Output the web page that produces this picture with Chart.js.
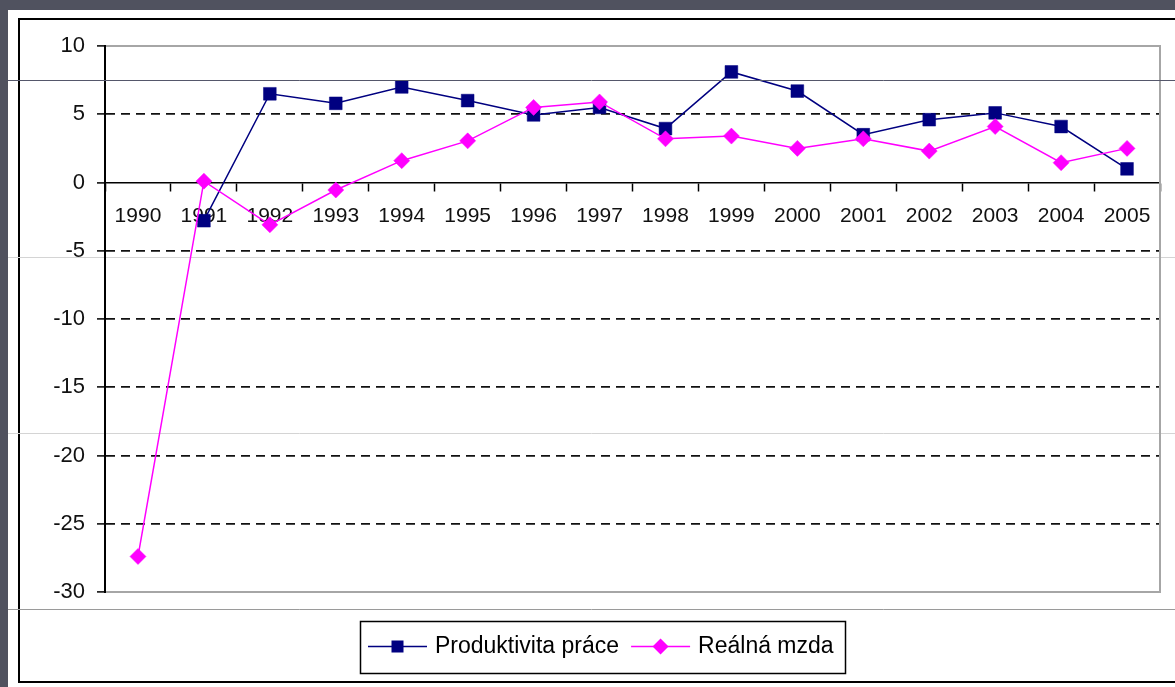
<!DOCTYPE html>
<html>
<head>
<meta charset="utf-8">
<script src="https://cdn.jsdelivr.net/npm/chart.js@4/dist/chart.umd.min.js"></script>
<style>
  html, body { margin: 0; padding: 0; background: #50525f; }
  #c { display: block; }
</style>
</head>
<body>
<canvas id="c" width="1175" height="687"></canvas>
<script>
const years = ['1990','1991','1992','1993','1994','1995','1996','1997','1998','1999','2000','2001','2002','2003','2004','2005'];
const produktivita = [null, -2.8, 6.5, 5.8, 7.0, 6.0, 4.95, 5.5, 3.95, 8.1, 6.7, 3.5, 4.6, 5.1, 4.1, 1.0];
const realnaMzda = [-27.4, 0.1, -3.1, -0.55, 1.6, 3.05, 5.5, 5.9, 3.2, 3.4, 2.5, 3.2, 2.3, 4.1, 1.45, 2.5];
const seriesNames = ['Produktivita práce', 'Reálná mzda'];
const yTicks = { min: -30, max: 10, step: 5 };

const FONT = '"Liberation Sans", Arial, sans-serif';
const NAVY = '#000080';
const MAGENTA = '#ff00ff';

const backdrop = {
  id: 'backdrop',
  beforeDraw(chart) {
    const ctx = chart.ctx;
    ctx.save();
    ctx.fillStyle = '#50525f';
    ctx.fillRect(0, 0, chart.width, chart.height);
    ctx.fillStyle = '#ffffff';
    ctx.fillRect(8, 10, chart.width, chart.height);
    ctx.strokeStyle = '#000';
    ctx.lineWidth = 2;
    ctx.strokeRect(19, 19, chart.width + 20, 663);
    ctx.lineWidth = 1;
    ctx.strokeStyle = '#d4d4d4';
    [257.5, 433.5].forEach(y => { ctx.beginPath(); ctx.moveTo(8, y); ctx.lineTo(chart.width, y); ctx.stroke(); });
    ctx.strokeStyle = '#9a9a9a';
    ctx.beginPath(); ctx.moveTo(8, 609.5); ctx.lineTo(chart.width, 609.5); ctx.stroke();
    ctx.restore();
  },
  beforeDatasetsDraw(chart) {
    const {ctx, chartArea: a} = chart;
    ctx.save();
    ctx.strokeStyle = '#a6a6a6';
    ctx.lineWidth = 2;
    ctx.beginPath();
    ctx.moveTo(a.left, a.top);
    ctx.lineTo(a.right, a.top);
    ctx.lineTo(a.right, a.bottom);
    ctx.lineTo(a.left, a.bottom);
    ctx.stroke();
    ctx.strokeStyle = '#000';
    ctx.beginPath();
    ctx.moveTo(a.left, a.top - 1);
    ctx.lineTo(a.left, a.bottom + 1);
    ctx.stroke();
    ctx.restore();
  },
  afterDraw(chart) {
    const ctx = chart.ctx;
    ctx.save();
    ctx.strokeStyle = '#55576b';
    ctx.lineWidth = 1;
    ctx.beginPath(); ctx.moveTo(8, 80.5); ctx.lineTo(chart.width, 80.5); ctx.stroke();

    // legend
    ctx.strokeStyle = '#000';
    ctx.lineWidth = 1.5;
    ctx.strokeRect(360.5, 621.5, 485, 52);
    ctx.font = '23px ' + FONT;
    ctx.textBaseline = 'alphabetic';
    const ly = 646.5;
    const ds = chart.data.datasets;
    let x = 368;
    ds.forEach((d) => {
      ctx.strokeStyle = d.borderColor;
      ctx.lineWidth = 1.5;
      ctx.beginPath(); ctx.moveTo(x, ly); ctx.lineTo(x + 59, ly); ctx.stroke();
      ctx.fillStyle = d.backgroundColor;
      const cx = x + 29.5;
      if (d.pointStyle === 'rect') {
        ctx.fillRect(cx - 6, ly - 6, 12, 12);
      } else {
        ctx.beginPath();
        ctx.moveTo(cx, ly - 8); ctx.lineTo(cx + 8, ly); ctx.lineTo(cx, ly + 8); ctx.lineTo(cx - 8, ly);
        ctx.closePath(); ctx.fill();
      }
      ctx.fillStyle = '#000';
      ctx.fillText(d.label, x + 67, 653);
      x = x + 67 + ctx.measureText(d.label).width + 12;
    });
    ctx.restore();
  }
};

new Chart(document.getElementById('c'), {
  type: 'line',
  data: {
    labels: years,
    datasets: [
      {
        label: seriesNames[0],
        data: produktivita,
        borderColor: NAVY,
        backgroundColor: NAVY,
        borderWidth: 1.5,
        pointStyle: 'rect',
        pointRadius: 9,
        pointHoverRadius: 9,
        pointBorderWidth: 0.5,
        tension: 0,
        spanGaps: false,
        order: 1
      },
      {
        label: seriesNames[1],
        data: realnaMzda,
        borderColor: MAGENTA,
        backgroundColor: MAGENTA,
        borderWidth: 1.5,
        pointStyle: 'rectRot',
        pointRadius: 8,
        pointHoverRadius: 8,
        pointBorderWidth: 0.5,
        tension: 0,
        order: 0
      }
    ]
  },
  options: {
    responsive: false,
    animation: false,
    devicePixelRatio: 1,
    layout: { padding: { top: 46, right: 15, bottom: 95, left: 0 } },
    plugins: {
      legend: { display: false },
      tooltip: { enabled: false }
    },
    scales: {
      x: {
        type: 'category',
        position: { y: 0 },
        offset: true,
        grid: {
          offset: true,
          drawOnChartArea: false,
          drawTicks: true,
          tickLength: 8,
          tickColor: '#000',
          tickWidth: 1.5,
          color: '#000'
        },
        border: { display: true, color: '#000', width: 1.5 },
        ticks: {
          font: { family: FONT, size: 21 },
          color: '#111',
          padding: 13,
          maxRotation: 0,
          autoSkip: false
        }
      },
      y: {
        min: yTicks.min,
        max: yTicks.max,
        afterFit(scale) { scale.width = 105; },
        grid: {
          color: (c) => (c.tick && [yTicks.min, 0, yTicks.max].includes(c.tick.value)) ? 'rgba(0,0,0,0)' : '#111',
          lineWidth: 1.8,
          tickColor: '#000',
          tickLength: 8,
          tickWidth: 1.5
        },
        border: { display: true, color: '#000', width: 2, dash: [9, 6] },
        ticks: {
          stepSize: yTicks.step,
          font: { family: FONT, size: 22 },
          color: '#111',
          padding: 12
        }
      }
    }
  },
  plugins: [backdrop]
});
</script>
</body>
</html>
